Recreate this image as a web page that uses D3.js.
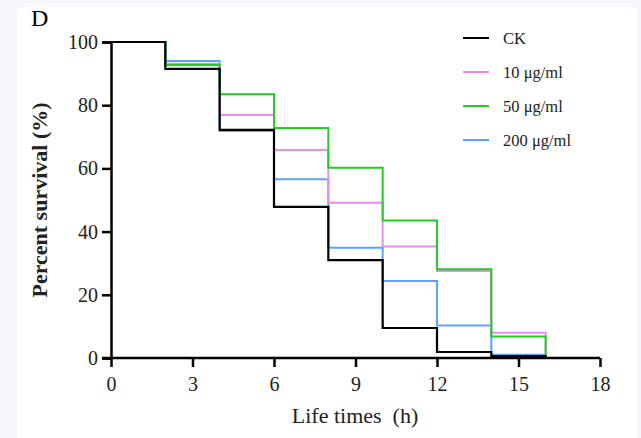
<!DOCTYPE html>
<html><head><meta charset="utf-8">
<script src="https://cdn.jsdelivr.net/npm/d3@7"></script>
<style>body{margin:0;background:#f5f7fa;} svg{display:block;}</style>
</head><body>
<svg id="chart" width="641" height="438"></svg>
<script>
const timePoints = [0, 2, 4, 6, 8, 10, 12, 14, 16];
const seriesNames = ["CK", "10 μg/ml", "50 μg/ml", "200 μg/ml"];
const seriesColors = ["#000000", "#e88cf0", "#22cc22", "#5aa2ff"];
const ckValues    = [100, 91.5, 72.2, 47.8, 31.0, 9.5, 1.9, 0.6, 0];
const v10Values   = [100, 93.1, 76.9, 65.8, 49.1, 35.3, 27.5, 8.0, 0];
const v50Values   = [100, 92.7, 83.5, 72.8, 60.2, 43.5, 28.1, 6.8, 0];
const v200Values  = [100, 94.0, 71.8, 56.6, 34.9, 24.4, 10.3, 1.0, 0];
const xTicks = [0, 3, 6, 9, 12, 15, 18];
const yTicks = [0, 20, 40, 60, 80, 100];

const allSeries = [ckValues, v10Values, v50Values, v200Values];
const svg = d3.select("#chart");
svg.append("rect").attr("x", 18).attr("y", 7).attr("width", 619).attr("height", 431).attr("fill", "#fff");

const x = d3.scaleLinear().domain([0, 18]).range([111, 600]);
const y = d3.scaleLinear().domain([0, 100]).range([358, 42]);
const font = "'Liberation Serif', 'Times New Roman', serif";

const line = d3.line().x(d => x(d[0])).y(d => y(d[1])).curve(d3.curveStepAfter);
const order = [3, 1, 2, 0];
order.forEach(i => {
  const pts = timePoints.map((t, k) => [t, allSeries[i][k]]);
  svg.append("path").datum(pts).attr("d", line)
    .attr("fill", "none").attr("stroke", seriesColors[i])
    .attr("stroke-width", i === 0 ? 2.2 : 2);
});

const xAxis = svg.append("g").attr("transform", `translate(0,${y(0)})`)
  .call(d3.axisBottom(x).tickValues(xTicks).tickSize(9).tickPadding(10).tickFormat(d3.format("d")));
const yAxis = svg.append("g").attr("transform", `translate(${x(0)},0)`)
  .call(d3.axisLeft(y).tickValues(yTicks).tickSize(9).tickPadding(4));
[xAxis, yAxis].forEach(g => {
  g.select(".domain").attr("stroke", "#000").attr("stroke-width", 2.5);
  g.selectAll(".tick line").attr("stroke", "#000").attr("stroke-width", 2.5);
  g.selectAll("text").attr("font-family", font).attr("font-size", 20).attr("fill", "#222");
});
xAxis.select(".domain").attr("d", `M${x(0)-9},0H${x(18)}`);

svg.append("text").attr("x", 355).attr("y", 423).attr("text-anchor", "middle")
  .style("white-space", "pre").attr("xml:space", "preserve")
  .attr("font-family", font).attr("font-size", 22).attr("fill", "#222").text("Life times  (h)");
svg.append("text").attr("transform", `translate(47,${y(50)}) rotate(-90)`)
  .attr("text-anchor", "middle").attr("font-family", font).attr("font-size", 22)
  .attr("font-weight", "bold").attr("fill", "#222").text("Percent survival (%)");
svg.append("text").attr("x", 31).attr("y", 26).attr("font-family", font)
  .attr("font-size", 24).attr("fill", "#000").text("D");

const legend = svg.append("g");
seriesNames.forEach((n, i) => {
  const ly = 38 + i * 34;
  legend.append("line").attr("x1", 463).attr("x2", 489).attr("y1", ly).attr("y2", ly)
    .attr("stroke", seriesColors[i]).attr("stroke-width", 2);
  legend.append("text").attr("x", 503).attr("y", ly + 5.5).attr("font-family", font)
    .attr("font-size", 16.5).attr("fill", "#222").text(n);
});
</script>
</body></html>
